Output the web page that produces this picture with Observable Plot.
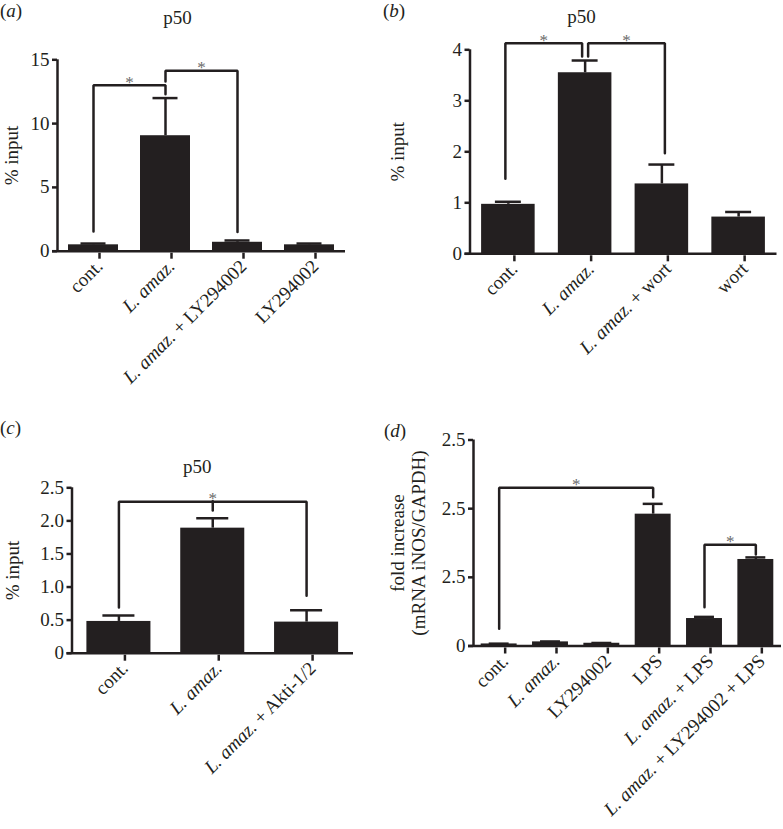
<!DOCTYPE html>
<html><head><meta charset="utf-8">
<script src="https://cdn.jsdelivr.net/npm/d3@7"></script>
<script src="https://cdn.jsdelivr.net/npm/@observablehq/plot@0.6"></script>
<style>
body{margin:0;background:#fff;}
#root{position:relative;width:783px;height:829px;font-family:"Liberation Serif","Times New Roman",serif;color:#231f20;overflow:hidden;}
.panel{position:absolute;}
.plabel{position:absolute;font-size:19px;line-height:19px;}
</style></head><body><div id="root"></div>
<script>
// ---------- Panel (a) ----------
const catsA = ["cont.", "L. amaz.", "L. amaz. + LY294002", "LY294002"];
const valsA = [0.5, 9.05, 0.7, 0.5];
const errsA = [0.1, 2.95, 0.14, 0.1];
const ticksA = [0, 5, 10, 15];
const tickLabelsA = ["0", "5", "10", "15"];
const bracketsA = [
  {from: "cont.", to: "L. amaz.", top: 13.0, fromEnd: 1.55, toEnd: 12.3},
  {from: "L. amaz.", to: "L. amaz. + LY294002", top: 14.15, fromEnd: 13.3, toEnd: 1.5}
];
// ---------- Panel (b) ----------
const catsB = ["cont.", "L. amaz.", "L. amaz. + wort", "wort"];
const valsB = [0.97, 3.55, 1.37, 0.72];
const errsB = [0.05, 0.24, 0.38, 0.1];
const ticksB = [0, 1, 2, 3, 4];
const tickLabelsB = ["0", "1", "2", "3", "4"];
const bracketsB = [
  {from: "cont.", to: "L. amaz.", top: 4.13, fromEnd: 1.47, toEnd: 3.87},
  {from: "L. amaz.", to: "L. amaz. + wort", top: 4.13, fromEnd: 3.87, toEnd: 1.97}
];
// ---------- Panel (c) ----------
const catsC = ["cont.", "L. amaz.", "L. amaz. + Akti-1/2"];
const valsC = [0.48, 1.89, 0.47];
const errsC = [0.09, 0.15, 0.18];
const ticksC = [0, 0.5, 1, 1.5, 2, 2.5];
const tickLabelsC = ["0", "0.5", "1.0", "1.5", "2.0", "2.5"];
const bracketsC = [
  {from: "cont.", to: "L. amaz. + Akti-1/2", top: 2.29, fromEnd: 0.69, toEnd: 0.87, mid: "L. amaz.", midEnd: 2.15}
];
// ---------- Panel (d) ----------
const catsD = ["cont.", "L. amaz.", "LY294002", "LPS", "L. amaz. + LPS", "L. amaz. + LY294002 + LPS"];
const valsD = [0.15, 0.3, 0.2, 9.6, 2.0, 6.3];
const errsD = [0.02, 0.03, 0.02, 0.75, 0.12, 0.15];
const ticksD = [0, 5, 10, 15];
const tickLabelsD = ["0", "2.5", "2.5", "2.5"];
const bracketsD = [
  {from: "cont.", to: "LPS", top: 11.52, fromEnd: 1.25, toEnd: 10.84},
  {from: "L. amaz. + LPS", to: "L. amaz. + LY294002 + LPS", top: 7.37, fromEnd: 2.83, toEnd: 6.66}
];

const titles = ["p50", "p50", "p50"];
const yLabels = ["% input", "% input", "% input", "fold increase\n(mRNA iNOS/GAPDH)"];
const panelLetters = ["a", "b", "c", "d"];
const italicPrefix = "L. amaz.";

const ink = "#231f20";
const SW = 2.5;
const FONT = "'Liberation Serif','Times New Roman',serif";

function makePanel(cfg) {
  const {cats, vals, errs, ticks, tickLabels, brackets, yMax, width, height,
         ml, mr, mt, mb, barInset, capInset, title, titleDx, titleDy,
         ylabel, ylabelDx, shifts} = cfg;
  const step = (width - ml - mr) / cats.length;
  const data = cats.map((c, i) => ({cat: c, v: vals[i], e: errs[i]}));
  const marks = [
    Plot.barY(data, {x: "cat", y: "v", fill: ink, insetLeft: barInset, insetRight: barInset}),
    Plot.ruleX(data, {x: "cat", y1: "v", y2: d => d.v + d.e, stroke: ink, strokeWidth: SW}),
    Plot.tickY(data, {x: "cat", y: d => d.v + d.e, stroke: ink, strokeWidth: SW, insetLeft: capInset, insetRight: capInset}),
    Plot.ruleY([0], {stroke: ink, strokeWidth: SW, insetLeft: -5}),
    Plot.ruleX([cats[0]], {y1: 0, y2: yMax, dx: -step / 2, stroke: ink, strokeWidth: SW}),
    Plot.axisY({ticks, tickFormat: d => tickLabels[ticks.indexOf(d)], tickSize: 5, tickPadding: 3,
                strokeWidth: SW, stroke: ink, fill: ink, label: null, fontSize: 19}),
    Plot.axisX({tickSize: 6, tickRotate: -45, tickPadding: 4, strokeWidth: SW, stroke: ink, fill: ink,
                label: null, fontSize: 19, dx: 6, dy: 2}),
    Plot.text([ylabel], {text: d => d, frameAnchor: "left", rotate: -90, dx: ylabelDx,
                textAnchor: "middle", lineAnchor: "middle", fontSize: 19, fill: ink, lineHeight: 1.15})
  ];
  if (title) {
    marks.push(Plot.text([title], {text: d => d, frameAnchor: "top", dx: titleDx, dy: titleDy,
                textAnchor: "middle", lineAnchor: "bottom", fontSize: 19, fill: ink}));
  }
  brackets.forEach((b, k) => {
    const shift = shifts ? shifts[k] : 0;
    const pts = [
      {x: b.from, y: b.fromEnd}, {x: b.from, y: b.top},
      {x: b.to, y: b.top}, {x: b.to, y: b.toEnd}
    ];
    marks.push(Plot.line(pts, {x: "x", y: "y", stroke: ink, strokeWidth: SW, dx: shift,
                strokeLinejoin: "miter", strokeLinecap: "round"}));
    if (b.mid) {
      marks.push(Plot.ruleX([b.mid], {y1: b.top, y2: b.midEnd, stroke: ink, strokeWidth: SW, strokeLinecap: "round"}));
    }
    const span = cats.indexOf(b.to) - cats.indexOf(b.from);
    marks.push(Plot.text(["*"], {text: d => d, x: [b.from], y: [b.top], dx: span * step / 2 + shift,
                dy: -3, fontSize: 17, fill: "#6a6a6a"}));
  });
  const svg = Plot.plot({
    width, height,
    marginLeft: ml, marginRight: mr, marginTop: mt, marginBottom: mb,
    x: {domain: cats, padding: 0, round: false, axis: null},
    y: {domain: [0, yMax], axis: null},
    style: {fontFamily: FONT, fontSize: "19px", color: ink, background: "transparent", overflow: "visible"},
    marks
  });
  // italicize species name in tick labels
  d3.select(svg).selectAll("text").each(function () {
    const t = d3.select(this);
    if (this.querySelector("tspan")) return;
    const s = this.textContent;
    if (s.startsWith(italicPrefix)) {
      t.text(null);
      t.append("tspan").attr("font-style", "italic").text(italicPrefix);
      const rest = s.slice(italicPrefix.length);
      if (rest) t.append("tspan").text(rest);
    }
  });
  return svg;
}

const root = document.getElementById("root");
function place(el, left, top) {
  el.classList.add("panel");
  el.style.left = left + "px";
  el.style.top = top + "px";
  root.appendChild(el);
}

place(makePanel({cats: catsA, vals: valsA, errs: errsA, ticks: ticksA, tickLabels: tickLabelsA,
  brackets: bracketsA, yMax: 15, width: 390, height: 400, ml: 57, mr: 45, mt: 59.3, mb: 149.3,
  barInset: 11, capInset: 23.5, title: titles[0], titleDx: -24, titleDy: -36,
  ylabel: yLabels[0], ylabelDx: -47}), 0, 0);

place(makePanel({cats: catsB, vals: valsB, errs: errsB, ticks: ticksB, tickLabels: tickLabelsB,
  brackets: bracketsB, yMax: 4, width: 393, height: 400, ml: 79.5, mr: 6.5, mt: 49.3, mb: 146.7,
  barInset: 11.6, capInset: 25.4, title: titles[1], titleDx: -42, titleDy: -27,
  ylabel: yLabels[1], ylabelDx: -73.5, shifts: [-3, 3]}), 390, 0);

place(makePanel({cats: catsC, vals: valsC, errs: errsC, ticks: ticksC, tickLabels: tickLabelsC,
  brackets: bracketsC, yMax: 2.5, width: 390, height: 419, ml: 71.5, mr: 37, mt: 77.3, mb: 176.3,
  barInset: 14.9, capInset: 30.9, title: titles[2], titleDx: -15.5, titleDy: -15,
  ylabel: yLabels[2], ylabelDx: -60.5}), 0, 410);

place(makePanel({cats: catsD, vals: valsD, errs: errsD, ticks: ticksD, tickLabels: tickLabelsD,
  brackets: bracketsD, yMax: 15, width: 393, height: 419, ml: 83, mr: 2, mt: 29.5, mb: 183.5,
  barInset: 7.7, capInset: 15.7, title: null,
  ylabel: yLabels[3], ylabelDx: -66}), 390, 410);

// panel letters
const letterPos = [[0, 1], [383, 1], [0, 418], [384, 421]];
panelLetters.forEach((l, i) => {
  const d = document.createElement("div");
  d.className = "plabel";
  d.style.left = letterPos[i][0] + "px";
  d.style.top = letterPos[i][1] + "px";
  d.append("(");
  const it = document.createElement("i");
  it.textContent = l;
  d.append(it);
  d.append(")");
  root.appendChild(d);
});
</script>
</body></html>
